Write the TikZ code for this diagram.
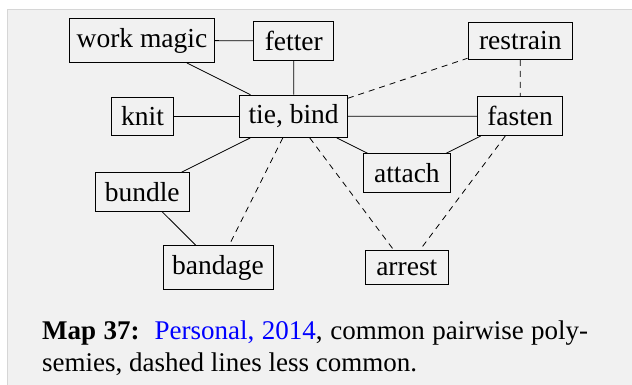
\documentclass[tikz,border=0pt]{standalone}
\usepackage{fontspec}
\setmainfont{Liberation Serif}
\definecolor{bgcol}{HTML}{F1F1F1}
\definecolor{edgecol}{HTML}{D6D6D6}
\definecolor{linkblue}{RGB}{0,0,255}
\begin{document}
\begin{tikzpicture}[x=1pt,y=-1pt,
  concept/.style={draw, line width=0.9pt, inner xsep=0pt, inner ysep=9.5pt,
    font=\fontsize{27.5}{31}\selectfont, anchor=center},
  solidlink/.style={line width=0.8pt},
  dashlink/.style={line width=0.8pt, dash pattern=on 6pt off 5pt}]
\useasboundingbox (0,0) rectangle (632,385);
\fill[bgcol] (7,9) rectangle (632,385);
\draw[edgecol, line width=0.8pt] (7,385) -- (7,9) -- (632,9);

\node[concept, minimum width=144.7pt] (magic) at (142,40.5) {work magic};
\node[concept, minimum width=79.8pt] (fetter) at (293.8,40.8) {fetter};
\node[concept, minimum width=104.7pt] (restrain) at (520.3,40.7) {restrain};
\node[concept, minimum width=62.5pt] (knit) at (142.5,116.3) {knit};
\node[concept, minimum width=107.6pt] (tie) at (293.6,116.3) {tie, bind};
\node[concept, minimum width=85pt] (fasten) at (520.1,116.2) {fasten};
\node[concept, minimum width=86.7pt] (attach) at (406.9,173) {attach};
\node[concept, minimum width=93.5pt] (bundle) at (142.2,191.8) {bundle};
\node[concept, minimum width=110pt] (bandage) at (218,267.5) {bandage};
\node[concept, minimum width=82.6pt] (arrest) at (406.8,267.5) {arrest};

\draw[solidlink] (magic) -- (fetter);
\draw[solidlink] (magic) -- (tie);
\draw[solidlink] (fetter) -- (tie);
\draw[solidlink] (knit) -- (tie);
\draw[solidlink] (tie) -- (fasten);
\draw[solidlink] (tie) -- (attach);
\draw[solidlink] (attach) -- (fasten);
\draw[solidlink] (tie) -- (bundle);
\draw[solidlink] (bundle) -- (bandage);
\draw[dashlink] (tie) -- (restrain);
\draw[dashlink] (restrain) -- (fasten);
\draw[dashlink] (tie) -- (bandage);
\draw[dashlink] (tie) -- (arrest);
\draw[dashlink] (fasten) -- (arrest);

\node[anchor=base west, inner sep=0pt, text width=546pt, align=justify,
  font=\fontsize{27}{32.5}\selectfont] (caption) at (42,339)
  {\textbf{Map 37:}\ \ \textcolor{linkblue}{Personal, 2014}, common pairwise poly-\linebreak
   semies, dashed lines less common.};
\end{tikzpicture}
\end{document}
